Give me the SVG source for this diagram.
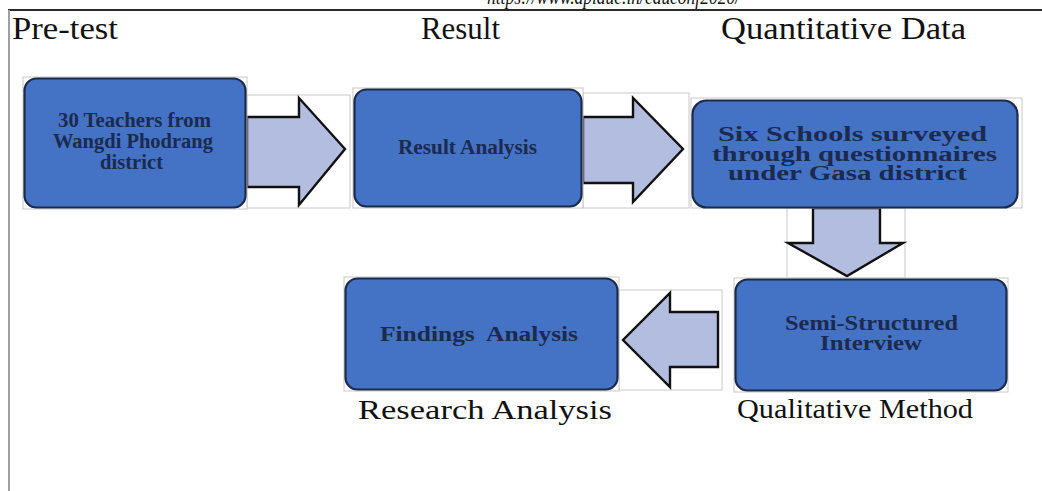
<svg xmlns="http://www.w3.org/2000/svg" width="1042" height="491" viewBox="0 0 1042 491">
  <style>
    .frame-top { stroke: #2b2b2b; stroke-width: 2; fill: none; }
    .frame-left { stroke: #a0a0a0; stroke-width: 2; fill: none; }
    .bbox { fill: #ffffff; stroke: #c8c8c8; stroke-width: 1; }
    .box { fill: #4472c4; stroke: #1c2a48; stroke-width: 2.2; }
    .arrow { fill: #b3bde0; stroke: #111111; stroke-width: 2.4; stroke-linejoin: miter; }
    .inbox { font-family: "Liberation Serif", "Times New Roman", serif; font-weight: bold; fill: #1b2a4e; font-size: 20px; }
    .label { font-family: "Liberation Serif", "Times New Roman", serif; fill: #111111; font-size: 28px; }
    .head { font-size: 31px; }
    .url { font-family: "Liberation Serif", "Times New Roman", serif; font-style: italic; fill: #111111; font-size: 22px; }
  </style>

  <rect x="0" y="0" width="1042" height="491" fill="#ffffff"/>

  <!-- page header, clipped by the top edge -->
  <text class="url" x="487" y="4" textLength="253" lengthAdjust="spacingAndGlyphs">https://www.apiaue.in/educonf2020/</text>

  <!-- frame -->
  <line class="frame-top" x1="8" y1="10" x2="1042" y2="10"/>
  <line class="frame-left" x1="9" y1="10" x2="9" y2="491"/>

  <!-- stage headings -->
  <g id="headings">
    <text class="label head" x="12" y="39" textLength="106" lengthAdjust="spacingAndGlyphs">Pre-test</text>
    <text class="label head" x="421" y="39" textLength="79" lengthAdjust="spacingAndGlyphs">Result</text>
    <text class="label head" x="721" y="39" textLength="245" lengthAdjust="spacingAndGlyphs">Quantitative Data</text>
    <text class="label" x="358" y="419" textLength="254" lengthAdjust="spacingAndGlyphs">Research Analysis</text>
    <text class="label" x="737" y="418" textLength="236" lengthAdjust="spacingAndGlyphs">Qualitative Method</text>
  </g>

  <!-- connectors: block arrows -->
  <g id="connectors">
    <rect class="bbox" x="247" y="95" width="103" height="113"/>
    <path class="arrow" d="M247,117 H299 V98 L345,149 L299,205 V187 H247 Z"/>

    <rect class="bbox" x="583" y="93" width="106" height="115"/>
    <path class="arrow" d="M583,117 H633 V98 L683,149 L633,202 V183 H583 Z"/>

    <rect class="bbox" x="787" y="208" width="118" height="70"/>
    <path class="arrow" d="M813,208 H880 V243 H903 L847,276 L788,243 H813 Z"/>

    <rect class="bbox" x="619" y="290" width="103" height="100"/>
    <path class="arrow" d="M718,312 H670 V293 L623,340 L670,387 V367 H718 Z"/>
  </g>

  <g id="node-teachers">
    <rect class="bbox" x="23" y="77" width="224" height="132"/>
    <rect class="box" x="24.5" y="78.5" width="221" height="129" rx="12"/>
    <text class="inbox" x="58" y="127" textLength="153" lengthAdjust="spacingAndGlyphs">30 Teachers from</text>
    <text class="inbox" x="53" y="148" textLength="160" lengthAdjust="spacingAndGlyphs">Wangdi Phodrang</text>
    <text class="inbox" x="100" y="169" textLength="63" lengthAdjust="spacingAndGlyphs">district</text>
  </g>

  <g id="node-result">
    <rect class="bbox" x="353" y="88" width="230" height="120"/>
    <rect class="box" x="354.5" y="89.5" width="227" height="117" rx="12"/>
    <text class="inbox" x="398" y="154" textLength="139" lengthAdjust="spacingAndGlyphs">Result Analysis</text>
  </g>

  <g id="node-schools">
    <rect class="bbox" x="691" y="98" width="331" height="110"/>
    <rect class="box" x="692.5" y="100.5" width="325" height="107" rx="14"/>
    <text class="inbox" x="718" y="141" font-size="16.5" textLength="269" lengthAdjust="spacingAndGlyphs">Six Schools surveyed</text>
    <text class="inbox" x="712" y="160.5" font-size="16.5" textLength="285" lengthAdjust="spacingAndGlyphs">through questionnaires</text>
    <text class="inbox" x="728" y="180" font-size="16.5" textLength="239" lengthAdjust="spacingAndGlyphs">under Gasa district</text>
  </g>

  <g id="node-findings">
    <rect class="bbox" x="344" y="277" width="275" height="114"/>
    <rect class="box" x="345.5" y="278.5" width="272" height="111" rx="12"/>
    <text class="inbox" x="380" y="341" xml:space="preserve" textLength="198" lengthAdjust="spacingAndGlyphs">Findings  Analysis</text>
  </g>

  <g id="node-interview">
    <rect class="bbox" x="734" y="278" width="274" height="114"/>
    <rect class="box" x="735.5" y="279.5" width="271" height="111" rx="12"/>
    <text class="inbox" x="785" y="330" font-size="16" textLength="173" lengthAdjust="spacingAndGlyphs">Semi-Structured</text>
    <text class="inbox" x="820" y="349.5" font-size="16" textLength="102" lengthAdjust="spacingAndGlyphs">Interview</text>
  </g>
</svg>
